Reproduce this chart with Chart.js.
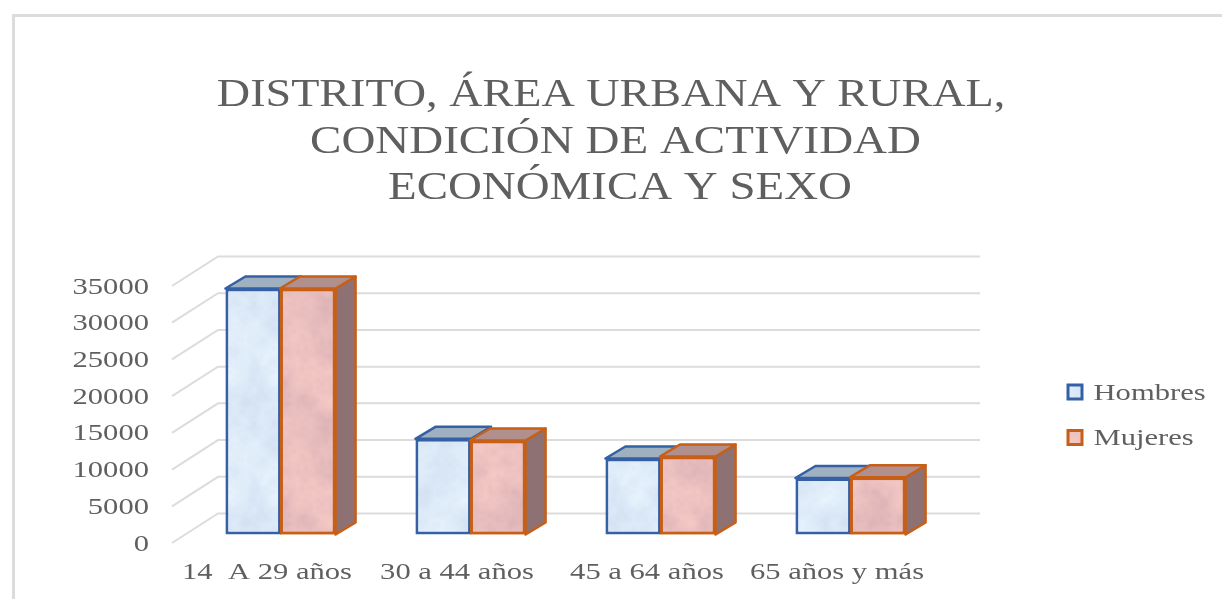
<!DOCTYPE html>
<html><head><meta charset="utf-8">
<style>
html,body{margin:0;padding:0;background:#fff;width:1222px;height:599px;overflow:hidden}
#frame{position:absolute;left:12px;top:14px;width:1222px;height:600px;border-top:3px solid #dcdcdc;border-left:3px solid #dcdcdc}
canvas{position:absolute;left:0;top:0}
</style>
<script src="https://cdn.jsdelivr.net/npm/chart.js@4/dist/chart.umd.min.js"></script>
</head><body><div id="frame"></div><canvas id="c" width="1222" height="599"></canvas>
<script>
const titleLines = ["DISTRITO, ÁREA URBANA Y RURAL,", "CONDICIÓN DE ACTIVIDAD", "ECONÓMICA Y SEXO"];
const categories = ["14  A 29 años", "30 a 44 años", "45 a 64 años", "65 años y más"];
const hombres = [33500, 13030, 10350, 7700];
const mujeres = [33500, 12800, 10620, 7800];
const tickStep = 5000, axisMax = 35000;

function mottled(r, g, b, amp, seed) {
  const n = 120, t = document.createElement('canvas');
  t.width = t.height = n;
  const x = t.getContext('2d'), im = x.createImageData(n, n);
  const hash = (i, j) => { const s = Math.sin(i * 127.1 + j * 311.7 + seed) * 43758.5453; return s - Math.floor(s); };
  const noise = (px, py, cell) => {
    const m = n / cell, gx = px / cell, gy = py / cell, i = Math.floor(gx), j = Math.floor(gy);
    let u = gx - i, v = gy - j;
    u = u * u * (3 - 2 * u); v = v * v * (3 - 2 * v);
    const h = (a, c) => hash(a % m, c % m);
    return (h(i, j) * (1 - u) + h(i + 1, j) * u) * (1 - v) + (h(i, j + 1) * (1 - u) + h(i + 1, j + 1) * u) * v;
  };
  for (let j = 0; j < n; j++) for (let i = 0; i < n; i++) {
    const v = noise(i, j, 24) * .5 + noise(i, j, 10) * .3 + noise(i, j, 4) * .2 - .5;
    const d = v * amp, p = (j * n + i) * 4;
    im.data[p] = r + d; im.data[p + 1] = g + d; im.data[p + 2] = b + d * .6; im.data[p + 3] = 255;
  }
  x.putImageData(im, 0, 0);
  return x.createPattern(t, 'repeat');
}

const DX = 20, DY = 12, BX = 13.5, BY = 8.5, WX = 46, WY = 29.5, GRID_END = 980;
const TEXT_STRETCH = 1.33, LABEL_DROP = 1.5;
const TITLE_STRETCHES = [1.153, 1.175, 1.173], TITLE_SHIFTS = [0, 4.5, 9];
let inTitle = false;

const scene = {
  id: 'scene',
  beforeInit(c) {
    const ctx = c.ctx, orig = ctx.fillText.bind(ctx);
    ctx.fillText = function (t, x, y) {
      const k = inTitle ? titleLines.indexOf(t) : -1;
      ctx.save();
      if (k >= 0) { ctx.translate(x + TITLE_SHIFTS[k], y); ctx.scale(TITLE_STRETCHES[k], 1); }
      else { ctx.translate(x, y + LABEL_DROP); ctx.scale(TEXT_STRETCH, 1); }
      orig(t, 0, 0);
      ctx.restore();
    };
  },
  beforeLayout(c) {
    if (c.legend && !c.legend._w) {
      c.legend._w = 1;
      const f = c.legend.fit;
      c.legend.fit = function () { f.call(this); this.width = 290; };
    }
    if (c.titleBlock && !c.titleBlock._w) {
      c.titleBlock._w = 1;
      const d = c.titleBlock.draw;
      c.titleBlock.draw = function () { inTitle = true; d.call(this); inTitle = false; };
    }
  },
  afterLayout(c) {
    const l = c.legend;
    l.left = 1045.5; l.right = 1222; l.top = 358; l.bottom = 599;
  },
  beforeDatasetsDraw(c) {
    const ctx = c.ctx, y = c.scales.y, a = c.chartArea;
    ctx.save();
    ctx.strokeStyle = '#dcdcdc'; ctx.lineWidth = 2;
    for (let v = 0; v <= axisMax; v += tickStep) {
      const p = y.getPixelForValue(v);
      ctx.beginPath();
      ctx.moveTo(a.left, p);
      ctx.lineTo(a.left + WX, p - WY);
      ctx.lineTo(GRID_END, p - WY);
      ctx.stroke();
    }
    ctx.restore();
    ctx.save();
    ctx.translate(BX, -BY);
  },
  afterDatasetsDraw(c) {
    const ctx = c.ctx;
    const face = (pts, fill, stroke) => {
      ctx.beginPath();
      pts.forEach((q, i) => i ? ctx.lineTo(q[0], q[1]) : ctx.moveTo(q[0], q[1]));
      ctx.closePath();
      ctx.fillStyle = fill; ctx.fill();
      ctx.strokeStyle = stroke; ctx.lineWidth = 2.5; ctx.lineJoin = 'round'; ctx.stroke();
    };
    const m0 = c.getDatasetMeta(0).data, m1 = c.getDatasetMeta(1).data;
    m0.forEach((b) => {
      const e = b.getProps(['x', 'y', 'base', 'width']);
      const l = e.x - e.width / 2, r = e.x + e.width / 2;
      face([[l, e.y], [l + DX, e.y - DY], [r + DX, e.y - DY], [r, e.y]], '#9fb1c0', BLUE);
    });
    m1.forEach((b) => {
      const e = b.getProps(['x', 'y', 'base', 'width']);
      const l = e.x - e.width / 2, r = e.x + e.width / 2;
      face([[r, e.y], [r + DX, e.y - DY], [r + DX, e.base - DY], [r, e.base]], '#8e7273', ORANGE);
      face([[l, e.y], [l + DX, e.y - DY], [r + DX, e.y - DY], [r, e.y]], '#b08f8d', ORANGE);
    });
    m1.forEach(b => b.draw(ctx));
    ctx.restore();
  }
};
const BLUE = '#3560a5', ORANGE = '#c75f17';

new Chart(document.getElementById('c'), {
  type: 'bar',
  plugins: [scene],
  data: {
    labels: categories,
    datasets: [
      { label: 'Hombres', data: hombres, backgroundColor: mottled(222, 235, 248, 26, 1), borderColor: BLUE, borderWidth: 3, borderSkipped: false, clip: false },
      { label: 'Mujeres', data: mujeres, backgroundColor: mottled(233, 190, 190, 30, 5), borderColor: ORANGE, borderWidth: 3, borderSkipped: false, clip: false }
    ]
  },
  options: {
    responsive: false, animation: false, devicePixelRatio: 1,
    layout: { padding: 0 },
    datasets: { bar: { barPercentage: 1.02, categoryPercentage: 0.574 } },
    scales: {
      x: {
        grid: { display: false }, border: { display: false },
        ticks: { color: '#5f5f5f', font: { family: 'Liberation Serif', size: 23 }, padding: 7, maxRotation: 0, autoSkip: false },
        afterFit(s) { s.height = 56; }
      },
      y: {
        min: 0, max: axisMax,
        grid: { display: false }, border: { display: false },
        ticks: { stepSize: tickStep, color: '#5f5f5f', font: { family: 'Liberation Serif', size: 23 }, padding: 15, callback: v => String(v) },
        afterFit(s) { s.width = 172; }
      }
    },
    plugins: {
      tooltip: { enabled: false },
      title: {
        display: true, text: titleLines, color: '#5f5f5f',
        font: { family: 'Liberation Serif', size: 40, weight: 'normal', lineHeight: 1.1625 },
        padding: { top: 72.5, bottom: 74 }
      },
      legend: {
        position: 'right', align: 'start',
        labels: { color: '#5f5f5f', font: { family: 'Liberation Serif', size: 23 }, boxWidth: 14, boxHeight: 14, padding: 22.5 }
      }
    }
  }
});
</script></body></html>
